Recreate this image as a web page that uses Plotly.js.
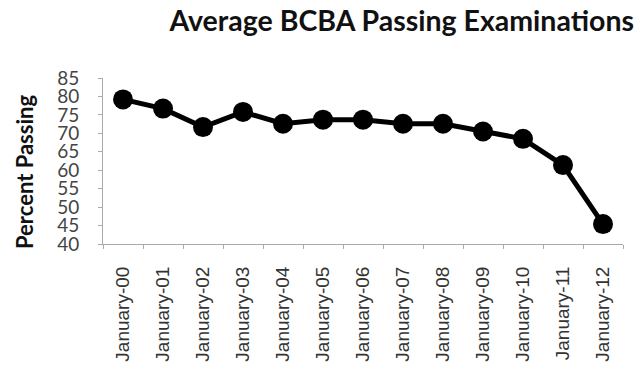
<!DOCTYPE html>
<html>
<head>
<meta charset="utf-8">
<script src="https://cdn.plot.ly/plotly-3.0.1.min.js"></script>
<style>html,body{margin:0;padding:0;background:#fff;}#chart{width:639px;height:365px;}</style>
</head>
<body>
<div id="chart"></div>
<script>
const categories = ["January-00","January-01","January-02","January-03","January-04","January-05","January-06","January-07","January-08","January-09","January-10","January-11","January-12"];
const percentPassing = [79.2, 76.7, 71.7, 75.8, 72.6, 73.7, 73.7, 72.6, 72.6, 70.5, 68.5, 61.4, 45.4];
const yTicks = [40, 45, 50, 55, 60, 65, 70, 75, 80, 85];
const chartTitle = "Average BCBA Passing Examinations";
const yTitle = "Percent Passing";

const W = 639, H = 365;
const L = 103, R = 16, T = 78, B = 121;

Plotly.newPlot('chart', [{
  x: categories,
  y: percentPassing,
  type: 'scatter',
  mode: 'lines+markers',
  line: {color: '#000', width: 5},
  marker: {color: '#000', size: 20},
  cliponaxis: false,
  hoverinfo: 'skip'
}], {
  width: W, height: H,
  margin: {l: L, r: R, t: T, b: B, pad: 0},
  paper_bgcolor: '#fff', plot_bgcolor: '#fff',
  showlegend: false,
  title: {
    text: '<b>' + chartTitle + '</b>',
    font: {family: 'Lato, "Open Sans", sans-serif', size: 28.5, color: '#111'},
    xref: 'container', yref: 'container',
    x: 634 / W, xanchor: 'right',
    y: 1 - 21 / H, yanchor: 'middle'
  },
  xaxis: {
    type: 'category',
    automargin: false,
    range: [-0.5, categories.length - 0.5],
    showgrid: false, zeroline: false,
    showline: true, linecolor: '#aaa', linewidth: 1,
    ticks: 'outside', tickson: 'boundaries', ticklen: 4, tickcolor: '#aaa',
    tickangle: -90,
    ticklabelstandoff: 14,
    tickfont: {family: '"Liberation Sans", Arial, sans-serif', size: 19, color: '#333'}
  },
  yaxis: {
    automargin: false,
    range: [40, 85],
    tickvals: yTicks,
    ticktext: yTicks.map(String),
    showgrid: false, zeroline: false,
    showline: true, linecolor: '#aaa', linewidth: 1,
    ticks: 'outside', ticklen: 4, tickcolor: '#aaa',
    ticklabelstandoff: 15,
    tickfont: {family: 'Lato, "Open Sans", sans-serif', size: 19, color: '#444'}
  },
  annotations: [{
    text: '<b>' + yTitle + '</b>',
    textangle: -90,
    xref: 'paper', yref: 'paper',
    x: (24 - L) / (W - L - R), xanchor: 'center',
    y: ((H - B) - 172) / (H - T - B), yanchor: 'middle',
    showarrow: false,
    font: {family: 'Lato, "Open Sans", sans-serif', size: 22, color: '#111'}
  }]
}, {displayModeBar: false, staticPlot: true});
</script>
</body>
</html>
